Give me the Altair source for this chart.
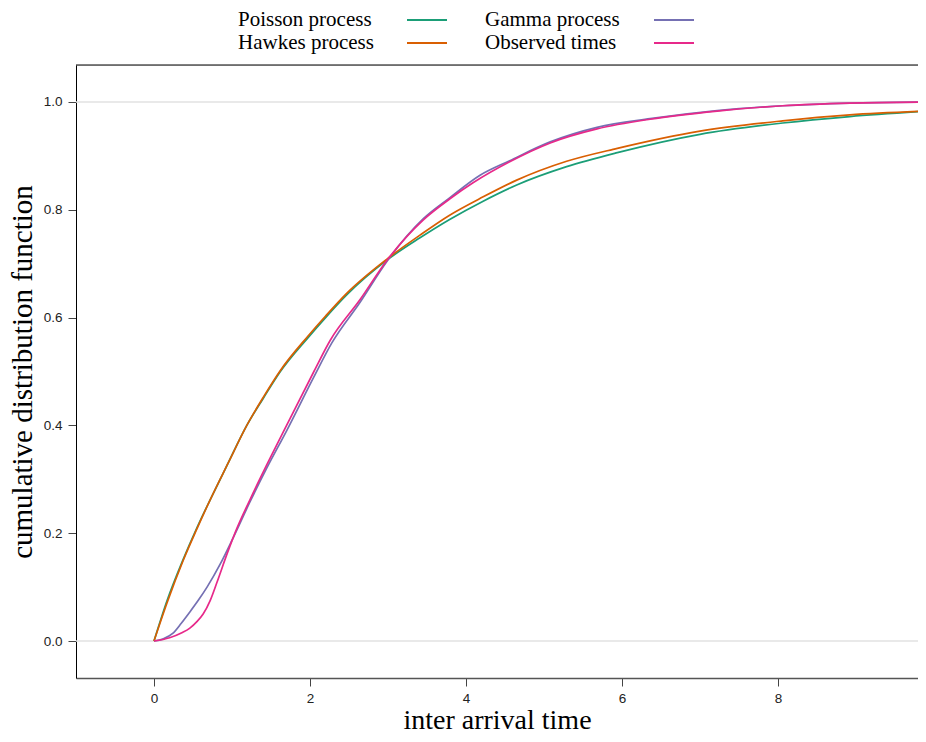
import altair as alt
import pandas as pd

# legend fills column by column: Poisson, Hawkes | Gamma, Observed
series_names = ["Poisson process", "Hawkes process", "Gamma process", "Observed times"]
series_colors = ["#1B9E77", "#D95F02", "#7570B3", "#E7298A"]

poisson_x = [0, 0.17, 0.37, 0.55, 0.72, 0.95, 1.19, 1.40, 1.62, 1.97, 2.20, 2.47, 2.99, 3.41, 3.79, 4.22, 4.65, 5.29, 5.94, 7.00, 8.06, 8.92, 9.90]
poisson_y = [0, 0.076, 0.150, 0.210, 0.262, 0.330, 0.400, 0.450, 0.500, 0.562, 0.600, 0.642, 0.707, 0.748, 0.782, 0.816, 0.846, 0.880, 0.906, 0.940, 0.961, 0.973, 0.983]

hawkes_x = [0, 0.17, 0.37, 0.55, 0.72, 0.95, 1.19, 1.40, 1.62, 1.97, 2.20, 2.47, 2.99, 3.41, 3.79, 4.22, 4.65, 5.29, 5.94, 7.00, 8.06, 8.92, 9.90]
hawkes_y = [0, 0.072, 0.148, 0.208, 0.262, 0.330, 0.400, 0.452, 0.502, 0.565, 0.603, 0.645, 0.709, 0.753, 0.790, 0.824, 0.855, 0.890, 0.914, 0.946, 0.965, 0.976, 0.983]

gamma_x = [0, 0.12, 0.24, 0.35, 0.46, 0.57, 0.68, 0.85, 1.01, 1.23, 1.45, 1.70, 2.05, 2.28, 2.64, 2.99, 3.45, 3.79, 4.18, 4.56, 5.08, 5.68, 6.36, 7.22, 8.06, 8.92, 9.90]
gamma_y = [0, 0.004, 0.014, 0.033, 0.054, 0.076, 0.100, 0.143, 0.190, 0.258, 0.322, 0.390, 0.490, 0.553, 0.628, 0.705, 0.783, 0.822, 0.864, 0.891, 0.926, 0.953, 0.969, 0.984, 0.993, 0.998, 1.0]

observed_x = [0, 0.20, 0.35, 0.46, 0.55, 0.63, 0.72, 0.81, 0.94, 1.06, 1.23, 1.45, 1.70, 2.05, 2.26, 2.64, 2.99, 3.45, 3.79, 4.09, 4.56, 5.08, 5.68, 6.36, 7.22, 8.06, 8.92, 9.90]
observed_y = [0, 0.006, 0.015, 0.024, 0.036, 0.050, 0.075, 0.110, 0.163, 0.208, 0.262, 0.328, 0.400, 0.500, 0.558, 0.633, 0.707, 0.781, 0.820, 0.850, 0.889, 0.924, 0.950, 0.968, 0.983, 0.993, 0.998, 1.0]

x_ticks = [0, 2, 4, 6, 8]
y_ticks = [0.0, 0.2, 0.4, 0.6, 0.8, 1.0]
ref_lines = [0.0, 1.0]

rows = []
for name, xs, ys in [
    ("Poisson process", poisson_x, poisson_y),
    ("Gamma process", gamma_x, gamma_y),
    ("Hawkes process", hawkes_x, hawkes_y),
    ("Observed times", observed_x, observed_y),
]:
    for i, (a, b) in enumerate(zip(xs, ys)):
        rows.append({"series": name, "t": a, "F": b, "i": i})
df = pd.DataFrame(rows)

W, H = 842, 613
x_scale = alt.Scale(domain=[-1, 9.795], nice=False, zero=False)
y_scale = alt.Scale(domain=[-0.0686, 1.0686], nice=False, zero=False)

refs = alt.Chart(pd.DataFrame({"F": ref_lines})).mark_rule(
    color="#e2e2e2", strokeWidth=1.6
).encode(y=alt.Y("F:Q", scale=y_scale))

lines = alt.Chart(df).mark_line(strokeWidth=1.7, interpolate="monotone", clip=True).encode(
    x=alt.X(
        "t:Q",
        scale=x_scale,
        axis=alt.Axis(
            values=x_ticks,
            title="inter arrival time",
            grid=False,
            tickSize=8,
            tickColor="#444",
            domainColor="#555",
            domainWidth=1.3,
            labelFont="Liberation Sans",
            labelFontSize=13.5,
            labelColor="#222",
            labelPadding=5,
            titleFont="Liberation Serif",
            titleFontSize=28,
            titleFontWeight="normal",
            titleColor="black",
            titlePadding=2,
        ),
    ),
    y=alt.Y(
        "F:Q",
        scale=y_scale,
        axis=alt.Axis(
            values=y_ticks,
            format=".1f",
            title="cumulative distribution function",
            grid=False,
            tickSize=8,
            tickColor="#444",
            domainColor="black",
            labelFont="Liberation Sans",
            labelFontSize=13.5,
            labelColor="#222",
            labelPadding=6,
            titleFont="Liberation Serif",
            titleFontSize=29,
            titleFontWeight="normal",
            titleColor="black",
            titlePadding=6,
        ),
    ),
    color=alt.Color(
        "series:N",
        scale=alt.Scale(domain=series_names, range=series_colors),
        legend=alt.Legend(
            title=None,
            orient="none",
            legendX=340,
            legendY=-56,
            columns=2,
            columnPadding=34,
            rowPadding=2,
            padding=0,
            symbolType="M-2,0H2",
            symbolSize=400,
            symbolStrokeWidth=2,
            labelAlign="left",
            labelOffset={"expr": "-200"},
            labelFont="Liberation Serif",
            labelFontSize=21,
            labelColor="black",
            labelLimit=300,
        ),
    ),
    order=alt.Order("i:Q"),
)

frame_top = alt.Chart(pd.DataFrame({"k": [0]})).mark_rule(color="black", strokeWidth=1).encode(
    x=alt.value(0), x2=alt.value(W), y=alt.value(0)
)

chart = alt.layer(refs, lines, frame_top).properties(
    width=W,
    height=H,
    autosize=alt.AutoSizeParams(type="none"),
    padding={"left": 68, "top": 57, "right": 0, "bottom": 56},
).configure_view(stroke=None).configure(background="white")

chart.save("out.html", embed_options={"renderer": "svg", "actions": False})
